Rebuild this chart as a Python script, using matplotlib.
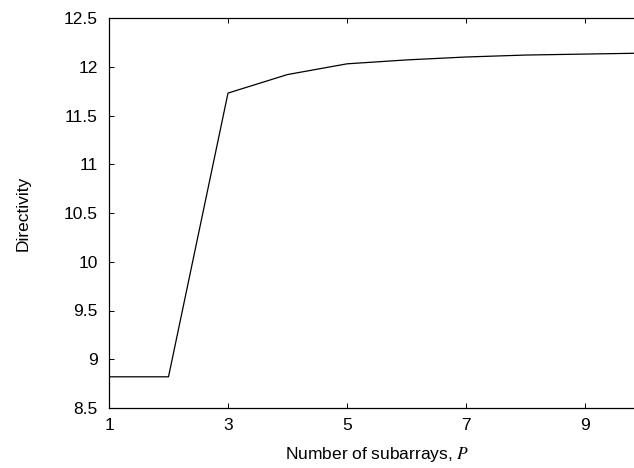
import matplotlib
matplotlib.use("Agg")
import matplotlib.pyplot as plt

P = [1, 2, 3, 4, 5, 6, 7, 8, 9, 10]
directivity = [8.82, 8.82, 11.73, 11.92, 12.03, 12.07, 12.10, 12.12, 12.13, 12.14]
xticks = [1, 3, 5, 7, 9]
yticks = [8.5, 9, 9.5, 10, 10.5, 11, 11.5, 12, 12.5]

plt.rcParams['font.family'] = ['Liberation Sans', 'DejaVu Sans']
plt.rcParams['mathtext.fontset'] = 'stix'
FS = 12.5

W, H = 634, 468
fig = plt.figure(figsize=(W / 100, H / 100), dpi=100)
left, right, bottom, top = 109, 644.5, 408, 18
ax = fig.add_axes([left / W, (H - bottom) / H, (right - left) / W, (bottom - top) / H])
ax.plot(P, directivity, color='black', linewidth=0.9)
ax.set_xlim(1, 10)
ax.set_ylim(8.5, 12.5)
ax.set_xticks(xticks)
ax.set_xticklabels([str(t) for t in xticks])
ax.set_yticks(yticks)
ax.set_yticklabels([f"{t:g}" for t in yticks])
ax.tick_params(direction='in', top=True, right=True, labelsize=FS, length=3.5, width=0.7)
ax.tick_params(axis='x', pad=7)
ax.tick_params(axis='y', pad=8)
for s in ['left', 'bottom', 'top', 'right']:
    ax.spines[s].set_linewidth(0.9)
ax.set_xlabel("Number of subarrays, $P$", fontsize=FS, labelpad=9)
ax.set_ylabel("Directivity", fontsize=FS, labelpad=24)
fig.savefig("out.png", dpi=100)
